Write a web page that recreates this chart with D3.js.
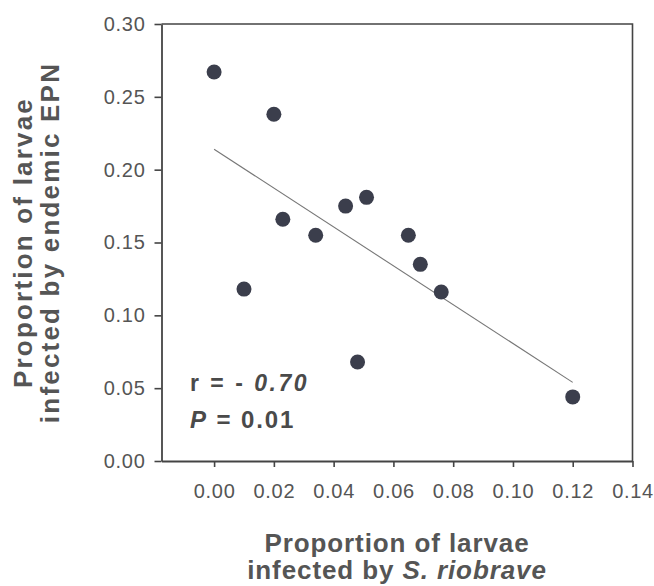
<!DOCTYPE html>
<html>
<head>
<meta charset="utf-8">
<script src="https://cdn.jsdelivr.net/npm/d3@7"></script>
<style>
  body { margin: 0; background: #fff; }
  .tick text { font-family: "Liberation Sans", Arial, sans-serif; fill: #555; }
  .axis-title { font-family: "Liberation Sans", Arial, sans-serif; font-weight: bold; fill: #555; }
  .stat { font-family: "Liberation Sans", Arial, sans-serif; font-weight: bold; fill: #4a4a4a; }
</style>
</head>
<body>
<div id="chart"></div>
<script>
// proportion infected by S. riobrave vs by endemic EPN
var xVals = [0.000, 0.020, 0.010, 0.023, 0.034, 0.044, 0.051, 0.048, 0.065, 0.069, 0.076, 0.120];
var yVals = [0.267, 0.238, 0.118, 0.166, 0.155, 0.175, 0.181, 0.068, 0.155, 0.135, 0.116, 0.044];

// fitted regression line end points
var fitX = [0.000, 0.120];
var fitY = [0.214, 0.054];

var xTicks = [0.00, 0.02, 0.04, 0.06, 0.08, 0.10, 0.12, 0.14];
var yTicks = [0.00, 0.05, 0.10, 0.15, 0.20, 0.25, 0.30];

var width = 654, height = 586;
var margin = { top: 24, right: 21.5, bottom: 125, left: 161.5 };

var svg = d3.select("#chart").append("svg")
    .attr("width", width)
    .attr("height", height);

var x = d3.scaleLinear()
    .domain([-0.0176, 0.14])
    .range([margin.left, width - margin.right]);

var y = d3.scaleLinear()
    .domain([0, 0.30])
    .range([height - margin.bottom, margin.top]);

// frame (top + right)
svg.append("path")
    .attr("d", "M" + x.range()[0] + "," + y(0.30) + "H" + x.range()[1] + "V" + y(0))
    .attr("fill", "none")
    .attr("stroke", "#444")
    .attr("stroke-width", 1.6);

var yAxis = svg.append("g")
    .attr("transform", "translate(" + margin.left + ",0)")
    .call(d3.axisLeft(y).tickValues(yTicks).tickFormat(d3.format(".2f"))
        .tickSize(7).tickSizeOuter(0).tickPadding(9));

var xAxis = svg.append("g")
    .attr("transform", "translate(0," + y(0) + ")")
    .call(d3.axisBottom(x).tickValues(xTicks).tickFormat(d3.format(".2f"))
        .tickSize(6).tickSizeOuter(0).tickPadding(17));

[yAxis, xAxis].forEach(function(a) {
  a.select(".domain").attr("stroke", "#444").attr("stroke-width", 1.8);
  a.selectAll(".tick line").attr("stroke", "#444").attr("stroke-width", 1.6);
  a.selectAll(".tick text").style("font-size", "20px").style("letter-spacing", "0.7px");
});

// regression line
svg.append("line")
    .attr("x1", x(fitX[0])).attr("y1", y(fitY[0]))
    .attr("x2", x(fitX[1])).attr("y2", y(fitY[1]))
    .attr("stroke", "#777")
    .attr("stroke-width", 1.1);

svg.selectAll("circle.pt")
    .data(xVals)
    .enter()
    .append("circle")
    .attr("class", "pt")
    .attr("cx", function(d) { return x(d); })
    .attr("cy", function(d, i) { return y(yVals[i]); })
    .attr("r", 7.5)
    .attr("fill", "#3b3e4c");

// statistics
var r = svg.append("text").attr("class", "stat")
    .attr("x", 190).attr("y", 391)
    .style("font-size", "23px").style("letter-spacing", "2.5px");
r.append("tspan").text("r = - ");
r.append("tspan").style("font-style", "italic").text("0.70");

var p = svg.append("text").attr("class", "stat")
    .attr("x", 190).attr("y", 428)
    .style("font-size", "24px").style("letter-spacing", "1.9px");
p.append("tspan").style("font-style", "italic").text("P");
p.append("tspan").text(" = 0.01");

// x title
var cx = (x.range()[0] + x.range()[1]) / 2;
svg.append("text").attr("class", "axis-title")
    .attr("x", cx).attr("y", 552)
    .attr("text-anchor", "middle")
    .style("font-size", "26px").style("letter-spacing", "0.9px")
    .text("Proportion of larvae");

var t2 = svg.append("text").attr("class", "axis-title")
    .attr("x", cx).attr("y", 579)
    .attr("text-anchor", "middle")
    .style("font-size", "26px").style("letter-spacing", "0.9px");
t2.append("tspan").text("infected by ");
t2.append("tspan").style("font-style", "italic").text("S. riobrave");

// y title
var cy = (y.range()[0] + y.range()[1]) / 2;
var yTitle = ["Proportion of larvae", "infected by endemic EPN"];
var yBase = [32, 59];
yTitle.forEach(function(s, i) {
  svg.append("text").attr("class", "axis-title")
      .attr("transform", "translate(" + yBase[i] + "," + cy + ") rotate(-90)")
      .attr("text-anchor", "middle")
      .style("font-size", "26px").style("letter-spacing", "2.2px")
      .text(s);
});
</script>
</body>
</html>
